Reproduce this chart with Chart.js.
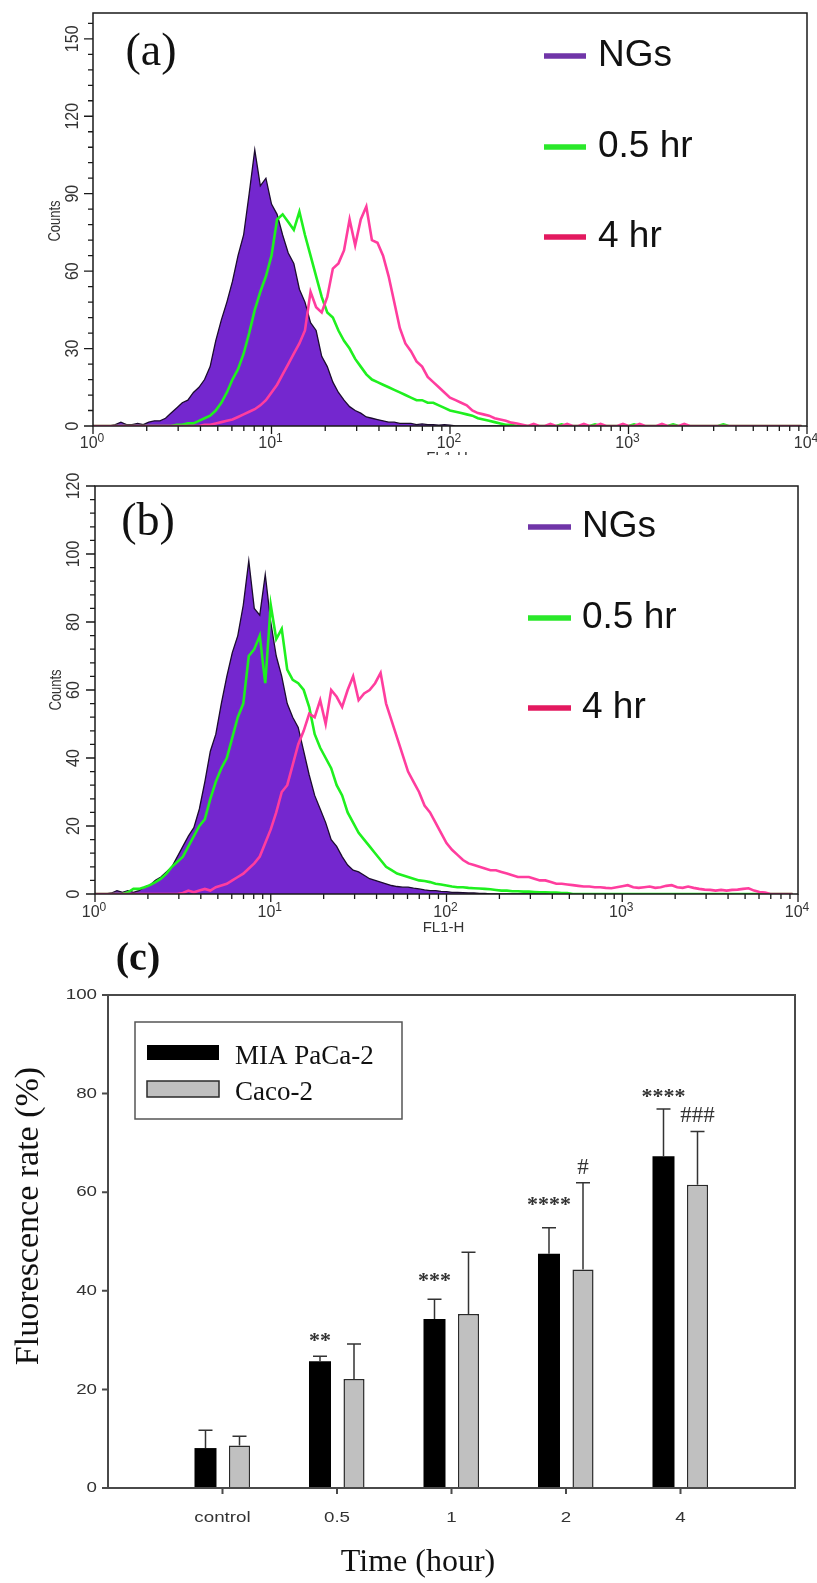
<!DOCTYPE html>
<html><head><meta charset="utf-8">
<script src="https://cdn.jsdelivr.net/npm/chart.js@4.4.1/dist/chart.umd.min.js"></script>
<style>
html,body{margin:0;padding:0;background:#fff;}
body{width:817px;height:1583px;position:relative;overflow:hidden;}
canvas{position:absolute;left:0;}
#ca{top:0;} #cb{top:455px;} #cc{top:935px;}
</style></head><body>
<canvas id="ca" width="817" height="455"></canvas>
<canvas id="cb" width="817" height="480"></canvas>
<canvas id="cc" width="817" height="648"></canvas>
<script>
// ---------------- DATA ----------------
const CHANNELS_PER_DECADE = 32;           // histogram channel grid (128 channels over 4 decades)
const histLegend = ['NGs', '0.5 hr', '4 hr'];
const histXDecades = [0, 1, 2, 3, 4];     // tick labels 10^0 ... 10^4
const aYTicks = [0, 30, 60, 90, 120, 150];
const bYTicks = [0, 20, 40, 60, 80, 100, 120];

// panel (a) counts per channel
const a_NGs = [
 0,0,0,0,0.5,1.5,0.5,0.5,1,0.5,
 1.5,2,2,3,5,7,9,10,13,15,
 18,23,33,41,48,56,66,74,90,107,
 93,96,86,82,74,67,63,53,48,40,
 37,27,23,17,13,10,7.5,6,5,3.5,
 3,2.5,2,1.5,1.5,1,1,1,0.5,0.8,
 0.5,0.5,0.3,0.5,0.3,0,0,0,0,0,
 0,0,0,0,0,0,0,0,0,0,
 0,0,0,0,0,0,0,0,0,0,
 0,0,0,0,0,0,0,0,0,0,
 0,0,0,0,0,0,0,0,0,0,
 0,0,0,0,0,0,0,0,0,0,
 0,0,0,0,0,0,0,0];
const a_05 = [
 0,0,0,0,0,0,0,0,0,0,
 0,0,0,0,0,0.5,0.5,1,1,2,
 3,4,6,9,13,18,22,28,36,45,
 52,58,66,80,82,79,76,83,74,66,
 58,50,44,42,37,33,30,26,23,20,
 18,17,16,15,14,13,12,11,10,10,
 9,9,8,7,6,5.5,5,4.5,4,3,
 2.5,2,1.5,1,0.5,0.5,0,0,0,0,
 0,0,0,0,0.6,0,0,0,0,0,
 0.6,0,0,0,0,0,0,0.6,0,0,
 0,0,0,0,0.6,0,0,0,0,0,
 0,0,0,0.6,0,0,0,0,0,0,
 0,0,0,0,0,0,0,0];
const a_4 = [
 0,0,0,0,0,0,0,0,0,0,
 0,0,0,0,0,0,0,0,0,0,
 0.5,0.5,1,1.5,2,2.5,3.5,4.5,5.5,6.5,
 8,10,13,16,20,24,28,32,37,52,
 46,44,50,61,63,68,80,70,80,85,
 72,71,66,58,48,38,32,29,25,23,
 19,17,15,13,11,10,9,8,6,5,
 4.5,4,3,2.5,2,1.3,1,0.5,0,0.8,
 0,0,0.8,0,0,0.8,0,0,0.8,0,
 0,0.8,0,0,0,0.8,0,0,0.8,0,
 0,0,0.8,0,0,0,0.8,0,0,0,
 0,0,0,0,0,0,0,0,0,0,
 0,0,0,0,0,0,0,0];

// panel (b) counts per channel
const b_NGs = [
 0,0,0,0.3,1,0.5,1,0.5,1,2,
 2.6,4,5,6.5,8,11,14,17,19.5,25,
 33,42,47,56,64,71,76,85,98,84,
 82,94,80,70,64,56,52,49,42,35,
 29,25,21,16,14,11,8.5,7,6.5,5.5,
 4.5,4,3.5,3,2.5,2.2,2,2,1.7,1.5,
 1.2,1,1,0.8,0.7,0.5,0.5,0.4,0.3,0.3,
 0.2,0.2,0,0,0,0,0,0,0,0,
 0,0,0,0,0,0,0,0,0,0,
 0,0,0,0,0,0,0,0,0,0,
 0,0,0,0,0,0,0,0,0,0,
 0,0,0,0,0,0,0,0,0,0,
 0,0,0,0,0,0,0,0];
const b_05 = [
 0,0,0,0,0,0,0.5,1.5,1.5,2,
 2.6,3.5,4.5,6,8,9.5,11,14,17,20,
 22,28,33,37,40,46,52,56,70,72,
 76,62,85,75,78,66,63,62,60,55,
 47,43,40,37,32,29,24,21,18,16,
 14,12,10,8,7,6,5.5,5,4.5,4,
 3.8,3.5,3,2.8,2.5,2.2,2,2,1.8,1.7,
 1.6,1.5,1.4,1.2,1,1,0.8,0.8,0.7,0.7,
 0.6,0.5,0.5,0.4,0.4,0.3,0.3,0,0,0,
 0,0,0,0,0,0,0,0,0,0,
 0,0,0,0,0,0,0,0,0,0,
 0,0,0,0,0,0,0,0,0,0,
 0,0,0,0,0,0,0,0];
const b_4 = [
 0,0,0,0,0,0,0,0,0,0,
 0,0,0,0,0,0,0.3,1,0.5,1,
 1.5,1,2,2.5,3,4,5,6,7.5,9,
 11,15,19,24,30,32,38,44,48,53,
 52,57,50,60,58,55,60,64,57,59,
 60,62,65,56,51,46,41,36,33,30,
 26,24,21,18,15,13,11.5,10,9,8.5,
 8,7.5,7,7,6.5,6,5.5,5,5,5,
 4.5,4,4,3.5,3,3,2.8,2.6,2.4,2.2,
 2.2,2,2,1.8,1.7,2,2.3,2.6,2,1.8,
 2,2.2,1.8,2,2.4,2.6,2,1.8,2.2,1.8,
 1.5,1.3,1.2,1,1.2,1,1.2,1.3,1.5,1.7,
 1,0.6,0.4,0,0,0,0,0];

// panel (c)
const cCategories = ['control', '0.5', '1', '2', '4'];
const cSeries = ['MIA PaCa-2', 'Caco-2'];
const miaMean = [8.1, 25.7, 34.3, 47.5, 67.3];
const miaErr  = [3.6, 1.0, 4.0, 5.3, 9.6];
const cacoMean = [8.6, 22.1, 35.3, 44.3, 61.5];
const cacoErr  = [1.9, 7.1, 12.5, 17.6, 10.8];
const miaMarks = ['', '**', '***', '****', '****'];
const miaMarkY = [null, 30.7, 42.9, 58.3, 80.2];
const cacoMarks = ['', '', '', '#', '###'];
const cacoMarkY = [null, null, null, 65.2, 75.9];
const cYTicks = [0, 20, 40, 60, 80, 100];

// ---------------- STYLE ----------------
const SANS = '"Liberation Sans", Arial, sans-serif';
const SERIF = '"Liberation Serif", "Times New Roman", serif';
const PURPLE = '#7427cf', GREEN = '#1ff01f', PINK = '#ff3d9e';
const LEG = ['#7035a8', '#2ae82a', '#e3195f'];

function txt(ctx, s, x, y, font, align, base, sx, rot, color) {
  ctx.save(); ctx.translate(x, y); ctx.scale(sx || 1, 1); if (rot) ctx.rotate(rot);
  ctx.font = font; ctx.textAlign = align || 'center'; ctx.textBaseline = base || 'alphabetic';
  ctx.fillStyle = color || '#222'; ctx.fillText(s, 0, 0); ctx.restore();
}
const toPts = arr => arr.map((v, c) => ({ x: Math.pow(10, c / CHANNELS_PER_DECADE), y: v }));

function histChart(id, sets, o) {
  const deco = {
    id: 'deco_' + id,
    afterDraw(chart) {
      const { ctx, chartArea: ca } = chart; const x = chart.scales.x, y = chart.scales.y;
      ctx.save();
      ctx.strokeStyle = '#1a1a1a'; ctx.lineWidth = 1.5;
      ctx.strokeRect(ca.left, ca.top, ca.right - ca.left, ca.bottom - ca.top);
      ctx.lineWidth = 1.3; ctx.beginPath();
      for (let d = 0; d < histXDecades.length - 1; d++) for (let k = 1; k < 10; k++) {
        const px = x.getPixelForValue(k * Math.pow(10, histXDecades[d]));
        const len = k === 1 ? 8 : 5; ctx.moveTo(px, ca.bottom); ctx.lineTo(px, ca.bottom + len);
      }
      const lastPx = x.getPixelForValue(Math.pow(10, histXDecades[histXDecades.length - 1]));
      ctx.moveTo(lastPx, ca.bottom); ctx.lineTo(lastPx, ca.bottom + 8);
      for (let v = 0; v <= o.yMax; v += o.minor) {
        const py = y.getPixelForValue(v); const len = o.yTicks.includes(v) ? 9 : 5;
        ctx.moveTo(ca.left - len, py); ctx.lineTo(ca.left, py);
      }
      ctx.stroke();
      // x tick labels 10^n
      histXDecades.forEach(d => {
        const px = x.getPixelForValue(Math.pow(10, d));
        ctx.font = '16px ' + SANS; const w1 = ctx.measureText('10').width;
        ctx.font = '12px ' + SANS; const w2 = ctx.measureText(String(d)).width;
        const st = px - (w1 + w2) / 2 - 1;
        txt(ctx, '10', st, o.xBase, '16px ' + SANS, 'left', 'alphabetic', 1, 0, '#333');
        txt(ctx, String(d), st + w1, o.xBase - 6, '12px ' + SANS, 'left', 'alphabetic', 1, 0, '#333');
      });
      txt(ctx, 'FL1-H', x.getPixelForValue(100) - 3, o.flY, '15px ' + SANS, 'center', 'middle', 1, 0, '#333');
      // y tick labels rotated
      o.yTicks.forEach(v => {
        txt(ctx, String(v), o.yLabX, y.getPixelForValue(v), '16px ' + SANS, 'center', 'middle', 1.15, -Math.PI / 2, '#333');
      });
      txt(ctx, 'Counts', o.counts[0], o.counts[1], '13px ' + SANS, 'center', 'middle', 1.2, -Math.PI / 2, '#333');
      // panel label
      txt(ctx, o.label, o.labelPos[0], o.labelPos[1], '46px ' + SERIF, 'center', 'middle', 1, 0, '#111');
      // legend
      histLegend.forEach((s, i) => {
        const yy = o.legRows[i];
        ctx.strokeStyle = LEG[i]; ctx.lineWidth = 5.5; ctx.lineCap = 'butt';
        ctx.beginPath(); ctx.moveTo(o.legLine[0], yy); ctx.lineTo(o.legLine[1], yy); ctx.stroke();
        txt(ctx, s, o.legText, yy, '37px ' + SANS, 'left', 'middle', 1, 0, '#111');
      });
      ctx.restore();
    }
  };
  return new Chart(document.getElementById(id), {
    type: 'line',
    data: { datasets: [
      { label: histLegend[2], data: toPts(sets[2]), borderColor: PINK, borderWidth: 2.6, tension: 0, pointRadius: 0, fill: false, order: 0 },
      { label: histLegend[1], data: toPts(sets[1]), borderColor: GREEN, borderWidth: 2.6, tension: 0, pointRadius: 0, fill: false, order: 1 },
      { label: histLegend[0], data: toPts(sets[0]), borderColor: '#1b0b2e', backgroundColor: PURPLE, borderWidth: 1.3, tension: 0, pointRadius: 0, fill: 'origin', order: 2 }
    ] },
    options: {
      responsive: false, animation: false, devicePixelRatio: 1,
      layout: { padding: o.pad },
      plugins: { legend: { display: false }, tooltip: { enabled: false } },
      scales: {
        x: { type: 'logarithmic', min: 1, max: 10000, grid: { display: false }, border: { display: false }, ticks: { display: false }, afterFit(s) { s.height = 0; } },
        y: { type: 'linear', min: 0, max: o.yMax, grid: { display: false }, border: { display: false }, ticks: { display: false }, afterFit(s) { s.width = 0; } }
      }
    },
    plugins: [deco]
  });
}

histChart('ca', [a_NGs, a_05, a_4], {
  pad: { left: 93, top: 13, right: 10, bottom: 29 }, yMax: 160, minor: 6, yTicks: aYTicks,
  xBase: 448, flY: 458, yLabX: 73, counts: [56, 221], label: '(a)', labelPos: [151, 53],
  legLine: [544, 586], legText: 598, legRows: [56, 147, 237]
});
histChart('cb', [b_NGs, b_05, b_4], {
  pad: { left: 95, top: 31, right: 19, bottom: 41 }, yMax: 120, minor: 4, yTicks: bYTicks,
  xBase: 462, flY: 473, yLabX: 74, counts: [57, 235], label: '(b)', labelPos: [148, 68],
  legLine: [528, 571], legText: 582, legRows: [72, 163, 253]
});

// ---------------- PANEL C ----------------
const cLabels = ['', ...cCategories, ''];
const padArr = v => [null, ...v, null];
const cDeco = {
  id: 'cdeco',
  afterDatasetsDraw(chart) {
    const { ctx } = chart; const y = chart.scales.y;
    ctx.save(); ctx.strokeStyle = '#333'; ctx.lineWidth = 1.5;
    [[miaMean, miaErr, miaMarks, miaMarkY, 'bold 22px ' + SERIF], [cacoMean, cacoErr, cacoMarks, cacoMarkY, '23px ' + SERIF]].forEach((s, di) => {
      const meta = chart.getDatasetMeta(di);
      s[0].forEach((m, j) => {
        const el = meta.data[j + 1];
        const top = y.getPixelForValue(m + s[1][j]);
        ctx.beginPath(); ctx.moveTo(el.x, el.y); ctx.lineTo(el.x, top);
        ctx.moveTo(el.x - 7, top); ctx.lineTo(el.x + 7, top); ctx.stroke();
        if (s[2][j]) {
          const cy = y.getPixelForValue(s[3][j]);
          const off = di === 0 ? 10.5 : 7.8;
          txt(ctx, s[2][j], el.x, cy + off, s[4], 'center', 'alphabetic', 1, 0, '#333');
        }
      });
    });
    ctx.restore();
  },
  afterDraw(chart) {
    const { ctx, chartArea: ca } = chart; const x = chart.scales.x, y = chart.scales.y;
    ctx.save();
    ctx.strokeStyle = '#4a4a4a'; ctx.lineWidth = 2;
    ctx.strokeRect(ca.left, ca.top, ca.right - ca.left, ca.bottom - ca.top);
    ctx.beginPath();
    cYTicks.forEach(v => { const py = y.getPixelForValue(v); ctx.moveTo(ca.left - 6, py); ctx.lineTo(ca.left, py); });
    cCategories.forEach((c, i) => { const px = x.getPixelForValue(i + 1); ctx.moveTo(px, ca.bottom); ctx.lineTo(px, ca.bottom + 6); });
    ctx.stroke();
    cYTicks.forEach(v => txt(ctx, String(v), ca.left - 11, y.getPixelForValue(v), '15px ' + SANS, 'right', 'middle', 1.25, 0, '#333'));
    cCategories.forEach((c, i) => txt(ctx, c, x.getPixelForValue(i + 1), 583, '15px ' + SANS, 'center', 'middle', 1.25, 0, '#333'));
    // titles
    txt(ctx, 'Fluorescence rate (%)', 29, 281, '34px ' + SERIF, 'center', 'middle', 1, -Math.PI / 2, '#111');
    txt(ctx, 'Time (hour)', 418, 628, '32px ' + SERIF, 'center', 'middle', 1, 0, '#111');
    txt(ctx, '(c)', 138, 25, 'bold 40px ' + SERIF, 'center', 'middle', 1, 0, '#111');
    // legend
    ctx.strokeStyle = '#555'; ctx.lineWidth = 1.5;
    ctx.strokeRect(135, 87, 267, 97);
    ctx.fillStyle = '#000'; ctx.fillRect(147, 110, 72, 15);
    ctx.fillStyle = '#c0c0c0'; ctx.fillRect(147, 146, 72, 16);
    ctx.strokeStyle = '#2a2a2a'; ctx.strokeRect(147, 146, 72, 16);
    txt(ctx, cSeries[0], 235, 129, '27px ' + SERIF, 'left', 'alphabetic', 1, 0, '#111');
    txt(ctx, cSeries[1], 235, 165, '27px ' + SERIF, 'left', 'alphabetic', 1, 0, '#111');
    ctx.restore();
  }
};
new Chart(document.getElementById('cc'), {
  type: 'bar',
  data: { labels: cLabels, datasets: [
    { label: cSeries[0], data: padArr(miaMean), backgroundColor: '#000', borderWidth: 0, categoryPercentage: 0.594, barPercentage: 0.647 },
    { label: cSeries[1], data: padArr(cacoMean), backgroundColor: '#c0c0c0', borderColor: '#2a2a2a', borderWidth: 1.5, borderSkipped: 'bottom', categoryPercentage: 0.594, barPercentage: 0.62 }
  ] },
  options: {
    responsive: false, animation: false, devicePixelRatio: 1,
    layout: { padding: { left: 108, top: 60, right: 22, bottom: 95 } },
    plugins: { legend: { display: false }, tooltip: { enabled: false } },
    scales: {
      x: { type: 'category', offset: false, grid: { display: false }, border: { display: false }, ticks: { display: false }, afterFit(s) { s.height = 0; } },
      y: { min: 0, max: 100, grid: { display: false }, border: { display: false }, ticks: { display: false }, afterFit(s) { s.width = 0; } }
    }
  },
  plugins: [cDeco]
});
</script>
</body></html>
